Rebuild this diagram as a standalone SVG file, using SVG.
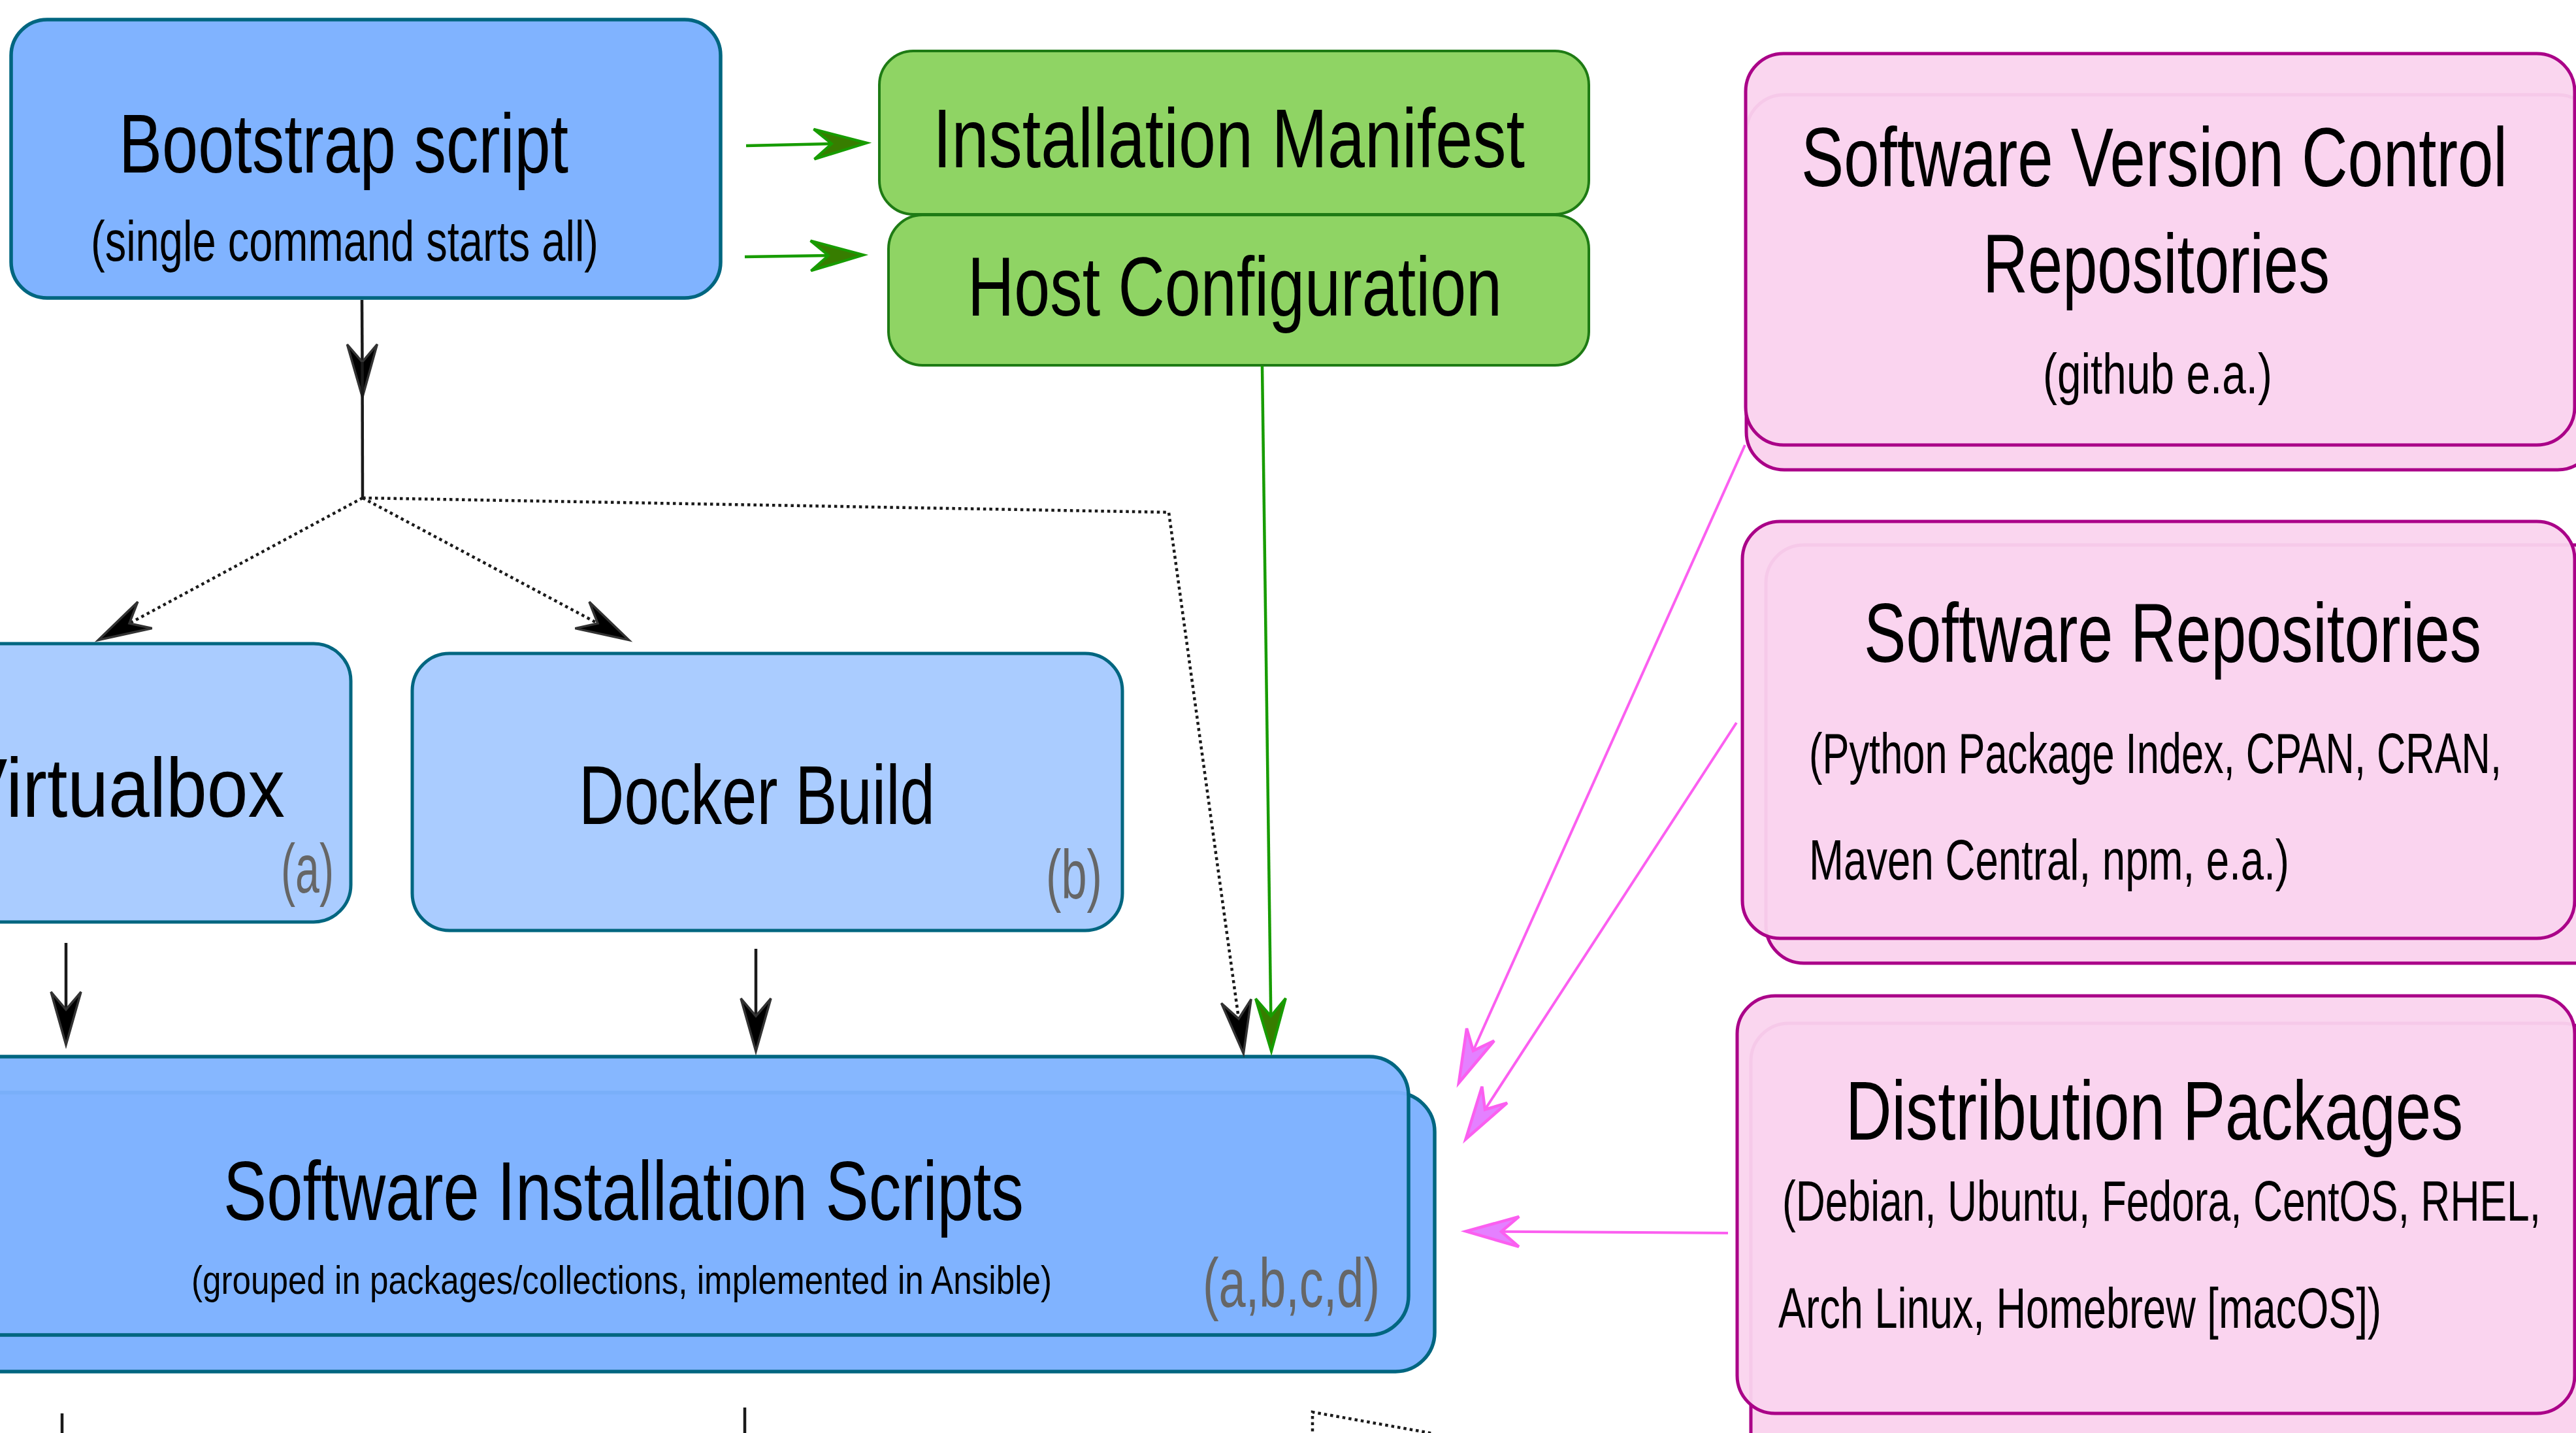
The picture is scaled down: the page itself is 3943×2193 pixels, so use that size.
<svg xmlns="http://www.w3.org/2000/svg" width="3943" height="2193" viewBox="0 0 3943 2193">
<style>
  .t { font-family: "Liberation Sans Narrow", "Liberation Sans", Arial, sans-serif; fill: #000; }
  .title { font-size: 128px; }
  .sub { font-size: 88px; }
  .small { font-size: 62px; }
  .tag { font-size: 105px; fill: #666666; }
  .blue { fill: #80b3ff; stroke: #006680; stroke-width: 5.5; }
  .lblue { fill: #aaccff; stroke: #006680; stroke-width: 5; }
  .green { fill: #8fd464; stroke: #1e7b14; stroke-width: 4; }
  .pink { fill: #fad4ee; stroke: #aa0088; stroke-width: 5; }
  .front { fill-opacity: 0.95; }
  .solid { fill: none; stroke: #1a1a1a; stroke-width: 4.5; }
  .dot { fill: none; stroke: #1a1a1a; stroke-width: 4.5; stroke-dasharray: 4.5 5; }
  .gline { fill: none; stroke: #179c00; stroke-width: 4.5; }
  .pline { fill: none; stroke: #fb5ff0; stroke-width: 4; }
</style>
<defs>
  <marker id="ah-black" viewBox="-40 -40 120 80" markerUnits="userSpaceOnUse" markerWidth="120" markerHeight="80" refX="0" refY="0" orient="auto" overflow="visible">
    <path d="M54,0 L-27,-23 L0,0 L-27,23 Z" fill="#000" stroke="#333" stroke-width="3.5" stroke-linejoin="miter"/>
  </marker>
  <marker id="ah-green" viewBox="-40 -40 120 80" markerUnits="userSpaceOnUse" markerWidth="120" markerHeight="80" refX="0" refY="0" orient="auto" overflow="visible">
    <path d="M54,0 L-27,-23 L0,0 L-27,23 Z" fill="#377d00" stroke="#179c00" stroke-width="4" stroke-linejoin="miter"/>
  </marker>
  <marker id="ah-pink" viewBox="-40 -40 120 80" markerUnits="userSpaceOnUse" markerWidth="120" markerHeight="80" refX="0" refY="0" orient="auto" overflow="visible">
    <path d="M54,0 L-27,-23 L0,0 L-27,23 Z" fill="#e480ff" stroke="#fb5ff0" stroke-width="4.5" stroke-linejoin="miter"/>
  </marker>
</defs>
<rect width="3943" height="2193" fill="#ffffff"/>

<g id="bootstrap">
  <rect class="blue" x="17" y="30" width="1086" height="426" rx="55" ry="55"/>
  <text class="t title" x="182" y="264" textLength="688" lengthAdjust="spacingAndGlyphs">Bootstrap script</text>
  <text class="t sub" x="139" y="399" textLength="777" lengthAdjust="spacingAndGlyphs">(single command starts all)</text>
</g>

<g id="installation-manifest">
  <rect class="green" x="1346" y="78" width="1086" height="250" rx="52" ry="52"/>
  <text class="t title" x="1428" y="256" textLength="906" lengthAdjust="spacingAndGlyphs">Installation Manifest</text>
</g>

<g id="host-configuration">
  <rect class="green" x="1360" y="329" width="1072" height="230" rx="52" ry="52"/>
  <text class="t title" x="1481" y="483" textLength="818" lengthAdjust="spacingAndGlyphs">Host Configuration</text>
</g>

<g id="vcs-repositories">
  <rect class="pink" x="2673" y="145" width="1300" height="574" rx="58" ry="58"/>
  <rect class="pink front" x="2672" y="82" width="1269" height="599" rx="58" ry="58"/>
  <text class="t title" x="2757" y="285" textLength="1081" lengthAdjust="spacingAndGlyphs">Software Version Control</text>
  <text class="t title" x="3035" y="448" textLength="531" lengthAdjust="spacingAndGlyphs">Repositories</text>
  <text class="t sub" x="3127" y="602" textLength="351" lengthAdjust="spacingAndGlyphs">(github e.a.)</text>
</g>

<g id="software-repositories">
  <rect class="pink" x="2703" y="834" width="1300" height="640" rx="58" ry="58"/>
  <rect class="pink front" x="2667" y="798" width="1274" height="638" rx="58" ry="58"/>
  <text class="t title" x="2853" y="1013" textLength="945" lengthAdjust="spacingAndGlyphs">Software Repositories</text>
  <text class="t sub" x="2769" y="1183" textLength="1060" lengthAdjust="spacingAndGlyphs">(Python Package Index, CPAN, CRAN,</text>
  <text class="t sub" x="2769" y="1346" textLength="735" lengthAdjust="spacingAndGlyphs">Maven Central, npm, e.a.)</text>
</g>

<g id="distribution-packages">
  <rect class="pink" x="2680" y="1566" width="1300" height="700" rx="58" ry="58"/>
  <rect class="pink front" x="2659" y="1524" width="1282" height="639" rx="58" ry="58"/>
  <text class="t title" x="2825" y="1744" textLength="945" lengthAdjust="spacingAndGlyphs">Distribution Packages</text>
  <text class="t sub" x="2728" y="1868" textLength="1161" lengthAdjust="spacingAndGlyphs">(Debian, Ubuntu, Fedora, CentOS, RHEL,</text>
  <text class="t sub" x="2722" y="2032" textLength="923" lengthAdjust="spacingAndGlyphs">Arch Linux, Homebrew [macOS])</text>
</g>

<g id="virtualbox">
  <rect class="lblue" x="-100" y="985" width="637" height="426" rx="57" ry="57"/>
  <text class="t title" x="-64" y="1250" textLength="500" lengthAdjust="spacingAndGlyphs">Virtualbox</text>
  <text class="t tag" x="430" y="1366" textLength="81" lengthAdjust="spacingAndGlyphs">(a)</text>
</g>

<g id="docker-build">
  <rect class="lblue" x="631" y="1000" width="1087" height="424" rx="57" ry="57"/>
  <text class="t title" x="886" y="1261" textLength="545" lengthAdjust="spacingAndGlyphs">Docker Build</text>
  <text class="t tag" x="1601" y="1375" textLength="86" lengthAdjust="spacingAndGlyphs">(b)</text>
</g>

<g id="software-installation-scripts">
  <rect class="blue" x="-100" y="1672" width="2296" height="427" rx="60" ry="60"/>
  <rect class="blue front" x="-100" y="1617" width="2256" height="426" rx="60" ry="60"/>
  <text class="t title" x="342" y="1867" textLength="1225" lengthAdjust="spacingAndGlyphs">Software Installation Scripts</text>
  <text class="t small" x="293" y="1980" textLength="1317" lengthAdjust="spacingAndGlyphs">(grouped in packages/collections, implemented in Ansible)</text>
  <text class="t tag" x="1841" y="2000" textLength="271" lengthAdjust="spacingAndGlyphs">(a,b,c,d)</text>
</g>

<g id="connectors">
  <!-- bootstrap to manifest / host config -->
  <path class="gline" d="M1142,223 L1273,220" marker-end="url(#ah-green)"/>
  <path class="gline" d="M1140,393 L1268,391" marker-end="url(#ah-green)"/>
  <!-- bootstrap down to junction -->
  <path class="solid" d="M554,459 L554.5,554" marker-end="url(#ah-black)"/>
  <path class="solid" d="M554.5,554 L555,762"/>
  <!-- dotted branches -->
  <path class="dot" d="M555,762 L198,954" marker-end="url(#ah-black)"/>
  <path class="dot" d="M555,762 L915,954" marker-end="url(#ah-black)"/>
  <path class="dot" d="M555,762 L1789,784 L1896,1559" marker-end="url(#ah-black)"/>
  <!-- virtualbox / docker down -->
  <path class="solid" d="M101,1443 L101,1545" marker-end="url(#ah-black)"/>
  <path class="solid" d="M1157,1452 L1157,1555" marker-end="url(#ah-black)"/>
  <!-- host configuration down -->
  <path class="gline" d="M1932,560 L1945.3,1555" marker-end="url(#ah-green)"/>
  <!-- pink repositories -->
  <path class="pline" d="M2671,681 L2255,1608" marker-end="url(#ah-pink)"/>
  <path class="pline" d="M2658,1106 L2273,1698" marker-end="url(#ah-pink)"/>
  <path class="pline" d="M2645,1887 L2298,1884.7" marker-end="url(#ah-pink)"/>
  <!-- lines leaving at bottom -->
  <path class="solid" d="M95,2163 L95,2200"/>
  <path class="solid" d="M1140,2154 L1140,2200"/>
  <path class="dot" d="M2009,2200 L2009,2161 L2195,2194"/>
</g>
</svg>
